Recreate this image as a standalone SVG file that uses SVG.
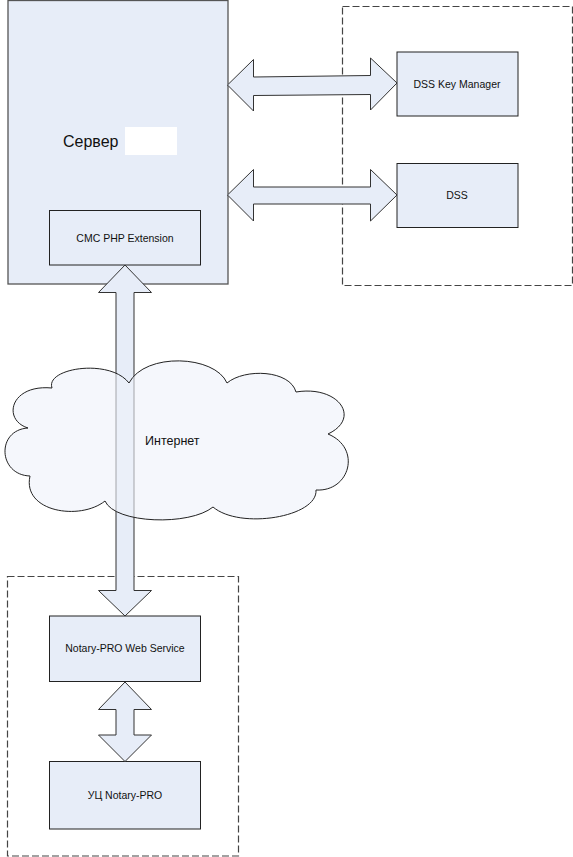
<svg xmlns="http://www.w3.org/2000/svg" width="573" height="857" viewBox="0 0 573 857">
<style>
.box{fill:#e7edf8;stroke:#222;stroke-width:1}
.srv{fill:#e7edf8;stroke:#555;stroke-width:1.3}
.dash{fill:none;stroke:#444;stroke-width:1.2;stroke-dasharray:7,3}
.arr{fill:#e7edf8;stroke:#333;stroke-width:1}
.lbl{font-family:"Liberation Sans",Arial,sans-serif;font-size:10.5px;fill:#111;text-anchor:middle}
.big{font-family:"Liberation Sans",Arial,sans-serif;fill:#111}
</style>
<rect width="573" height="857" fill="#fff"/>
<g id="dss-group"><rect class="dash" x="342.5" y="6.5" width="230" height="279"/></g>
<g id="notary-group"><rect class="dash" x="7.5" y="576.5" width="231" height="279.5"/></g>
<g id="server">
<rect class="srv" x="8" y="0.5" width="220" height="283.5"/>
<text class="big" x="63" y="147" font-size="16">Сервер</text>
<rect x="125" y="127" width="52" height="28" fill="#fff"/>
</g>
<g id="cmc"><rect class="box" x="49.5" y="210.5" width="151" height="54.5"/><text class="lbl" x="125" y="242">CMC PHP Extension</text></g>
<g id="dsskm"><rect class="box" x="397" y="52" width="121" height="64"/><text class="lbl" x="457" y="88">DSS Key Manager</text></g>
<g id="dss"><rect class="box" x="397" y="163.5" width="121" height="64"/><text class="lbl" x="457" y="199">DSS</text></g>
<g id="nws"><rect class="box" x="49.5" y="616" width="151" height="65.5"/><text class="lbl" x="125" y="652">Notary-PRO Web Service</text></g>
<g id="uc"><rect class="box" x="49.5" y="761.5" width="151" height="67.5"/><text class="lbl" x="125" y="799">УЦ Notary-PRO</text></g>
<g id="connectors">
<path class="arr" d="M227.5,85 L253.5,59.5 L253.5,77 L370.5,75.5 L370.5,58 L397,83 L370.5,110 L370.5,94.5 L253.5,95.5 L253.5,111 Z"/>
<path class="arr" d="M227.5,195 L253.5,169.5 L253.5,187 L370.5,187 L370.5,169.5 L397,195 L370.5,221 L370.5,204 L253.5,204 L253.5,221 Z"/>
<path class="arr" d="M125,265 L151.5,292.5 L134,292.5 L134,590.5 L151.5,590.5 L125,616 L98.5,590.5 L116,590.5 L116,292.5 L98.5,292.5 Z"/>
<path class="arr" d="M125,682 L151.5,709.5 L134,709.5 L134,735 L151.5,735 L125,761.5 L98.5,735 L116,735 L116,709.5 L98.5,709.5 Z"/>
</g>
<g id="internet">
<path d="M52,388 C45,368 110,358 129,383 C145,352 215,355 227,383 C245,368 290,370 296,392 C338,385 362,418 328,434 C362,448 350,492 316,490 C318,517 240,530 213,507 C190,526 115,524 105,501 C80,521 22,512 30,476 C-2,475 -4,430 28,428 C2,420 10,384 52,388 Z" fill="#eef2fa" fill-opacity="0.6" stroke="#222" stroke-width="1"/>
<text class="big" x="145" y="445" font-size="12.5">Интернет</text>
</g>
</svg>
